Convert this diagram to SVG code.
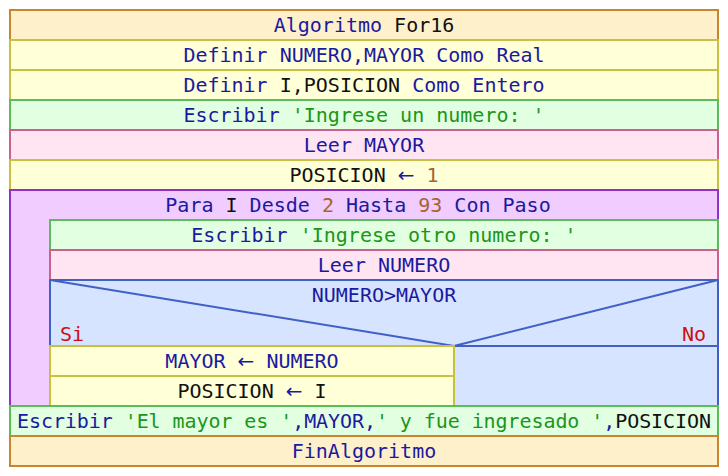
<svg xmlns="http://www.w3.org/2000/svg" width="728" height="476" viewBox="0 0 728 476">
<style>
text{font-family:"DejaVu Sans Mono","Liberation Mono",monospace;font-size:20px;text-anchor:middle;fill:#1a1aa0}
.alg{fill:#fff0cc;stroke:#c8862c;stroke-width:2}
.def{fill:#ffffd8;stroke:#c8c040;stroke-width:2}
.esc{fill:#e2ffe2;stroke:#5cbc5c;stroke-width:2}
.lee{fill:#ffe4f2;stroke:#c86090;stroke-width:2}
.para{fill:#f0ccff;stroke:#9030c8;stroke-width:2}
.si{fill:#d6e4ff;stroke:#4060c4;stroke-width:2}
.v{fill:#111}
.s{fill:#1a961a}
.n{fill:#a8642c}
.r{fill:#cc1010}
.a{font-family:"DejaVu Sans",sans-serif}
</style>
<rect width="728" height="476" fill="#fff"/>
<g id="alg">
<rect class="alg" x="10" y="10" width="708" height="30"/>
<text x="364" y="32">Algoritmo <tspan class="v">For16</tspan></text>
</g>
<g id="def1">
<rect class="def" x="10" y="40" width="708" height="30"/>
<text x="364" y="62">Definir NUMERO,MAYOR Como Real</text>
</g>
<g id="def2">
<rect class="def" x="10" y="70" width="708" height="30"/>
<text x="364" y="92">Definir <tspan class="v">I,POSICION</tspan> Como Entero</text>
</g>
<g id="esc1">
<rect class="esc" x="10" y="100" width="708" height="30"/>
<text x="364" y="122">Escribir <tspan class="s">'Ingrese un numero: '</tspan></text>
</g>
<g id="leer1">
<rect class="lee" x="10" y="130" width="708" height="30"/>
<text x="364" y="152">Leer MAYOR</text>
</g>
<g id="asig1">
<rect class="def" x="10" y="160" width="708" height="30"/>
<text x="364" y="182"><tspan class="v">POSICION</tspan> <tspan class="a">←</tspan> <tspan class="n">1</tspan></text>
</g>
<g id="para">
<rect class="para" x="10" y="190" width="708" height="216"/>
<text x="358" y="212">Para <tspan class="v">I</tspan> Desde <tspan class="n">2</tspan> Hasta <tspan class="n">93</tspan> Con Paso</text>
</g>
<g id="esc2">
<rect class="esc" x="50" y="220" width="668" height="30"/>
<text x="384" y="242">Escribir <tspan class="s">'Ingrese otro numero: '</tspan></text>
</g>
<g id="leer2">
<rect class="lee" x="50" y="250" width="668" height="30"/>
<text x="384" y="272">Leer NUMERO</text>
</g>
<g id="si">
<rect class="si" x="50" y="280" width="668" height="126"/>
<polyline points="50,280 454,346 718,280" fill="none" stroke="#4060c4" stroke-width="2"/>
<line x1="50" y1="346" x2="718" y2="346" stroke="#4060c4" stroke-width="2"/>
<text x="384" y="302">NUMERO&gt;MAYOR</text>
<text class="r" x="60" y="341" style="text-anchor:start">Si</text>
<text class="r" x="706" y="341" style="text-anchor:end">No</text>
</g>
<g id="asig2">
<rect class="def" x="50" y="346" width="404" height="30"/>
<text x="252" y="368">MAYOR <tspan class="a">←</tspan> NUMERO</text>
</g>
<g id="asig3">
<rect class="def" x="50" y="376" width="404" height="30"/>
<text x="252" y="398"><tspan class="v">POSICION</tspan> <tspan class="a">←</tspan> <tspan class="v">I</tspan></text>
</g>
<g id="esc3">
<rect class="esc" x="10" y="406" width="708" height="30"/>
<text x="364" y="428" textLength="694" lengthAdjust="spacing">Escribir <tspan class="s">'El mayor es '</tspan>,MAYOR,<tspan class="s">' y fue ingresado '</tspan>,<tspan class="v">POSICION</tspan></text>
</g>
<g id="fin">
<rect class="alg" x="10" y="436" width="708" height="30"/>
<text x="364" y="458">FinAlgoritmo</text>
</g>
<g id="connectors"></g>
</svg>
